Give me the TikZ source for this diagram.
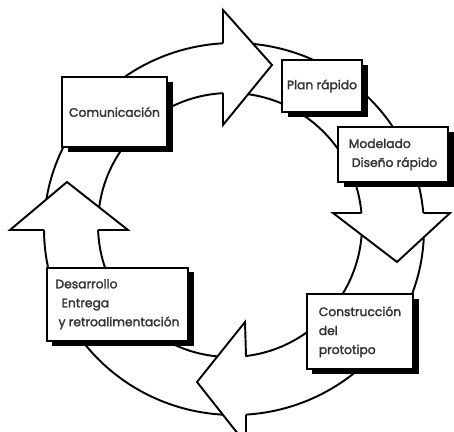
\documentclass[tikz,border=0pt]{standalone}
\usepackage{fontspec}
\setsansfont{Poppins}[FakeBold=2]
\usetikzlibrary{shadows}
\tikzset{
  ringln/.style={line width=1.1pt},
  headln/.style={line width=1.1pt, line join=miter},
  stagebox/.style={draw, line width=1.1pt, fill=white, align=left, inner sep=2pt,
    text=black!80, font=\sffamily\fontsize{7}{10.8}\selectfont,
    preaction={draw=none, fill=black, transform canvas={xshift=3.2pt, yshift=-2.8pt}}},
}

\begin{document}
\begin{tikzpicture}[x=0.02cm, y=-0.02cm]
    \useasboundingbox (0,0) rectangle (454,432);
    \fill[white] (0,0) rectangle (454,432);
    \clip (0,0) rectangle (454,432);
    % ----- ring -----
    \draw[ringln] (234,229) ellipse [x radius=190, y radius=186];
    \draw[ringln] (230,225) circle [radius=132];
    % ----- arrow heads -----
    % top, towards Plan rapido
    \fill[white] (223,10) -- (272,65) -- (223,125) -- cycle;
    \draw[headln] (223,43.3) -- (223,10) -- (272,65) -- (223,125) -- (223,93.2);
    % right, towards Construccion
    \fill[white] (450,213) -- (397,262) -- (333,213) -- cycle;
    \draw[headln] (423.3,213) -- (450,213) -- (397,262) -- (333,213) -- (361.5,213);
    % bottom, towards Desarrollo
    \fill[white] (245,322) -- (197,382) -- (246,444) -- cycle;
    \draw[headln] (246,356) -- (245,322) -- (197,382) -- (246,444) -- (246,414.6);
    % left, towards Comunicacion
    \fill[white] (10,230) -- (67,182) -- (128,230) -- cycle;
    \draw[headln] (44,230) -- (10,230) -- (67,182) -- (128,230) -- (98.1,230);
    % ----- stages -----
    \node[stagebox, minimum width=2.1cm, minimum height=1.4cm] (comunic) at (114.5,112) {Comunicación};
    \node[stagebox, minimum width=1.6cm, minimum height=1.04cm] (plan) at (322,86) {Plan rápido};
    \node[stagebox, minimum width=2.2cm, minimum height=1.1cm] (modelado) at (393,154.5)
      {Modelado\\\hspace*{0.25em}Diseño rápido};
    \node[stagebox, minimum width=2.13cm, minimum height=1.5cm] (construc) at (360,331.8)
      {Construcción\\del\\prototipo};
    \node[stagebox, minimum width=2.83cm, minimum height=1.47cm] (desarrollo) at (117.5,304.3)
      {Desarrollo\\\hspace*{0.5em}Entrega\\\hspace*{0.25em}y retroalimentación};
  \end{tikzpicture}
\end{document}
